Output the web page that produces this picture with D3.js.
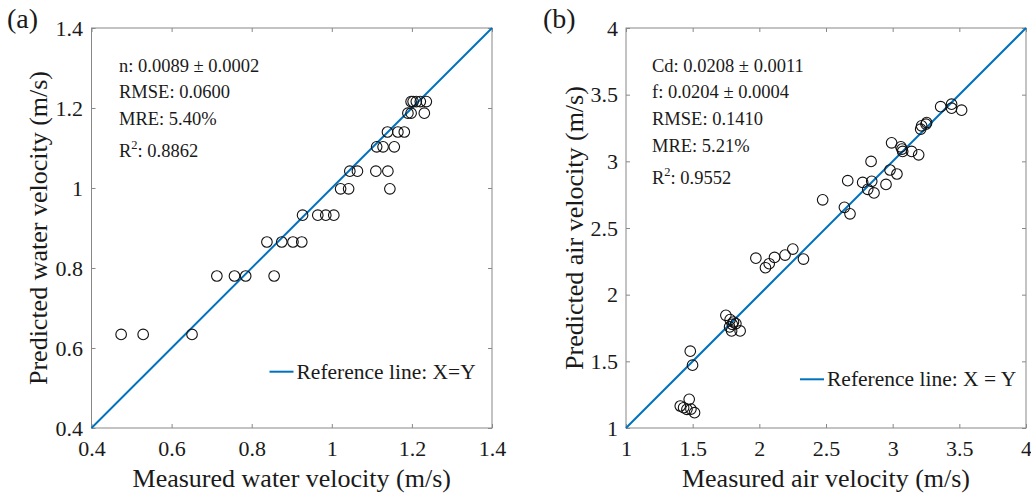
<!DOCTYPE html>
<html>
<head>
<meta charset="utf-8">
<script src="https://cdn.jsdelivr.net/npm/d3@7"></script>
<style>
  html, body { margin: 0; padding: 0; background: #fff; }
  svg text { font-family: "Liberation Serif", "Times New Roman", serif; fill: #1a1a1a; }
</style>
</head>
<body>
<div id="chart"></div>
<script>
// (a) water velocity: measured vs predicted (m/s)
const waterMeasured = [
  0.474, 0.529, 0.651,
  0.713, 0.757, 0.785, 0.856,
  0.838, 0.875, 0.903, 0.925,
  0.927, 0.965, 0.985, 1.005,
  1.022, 1.042, 1.145,
  1.045, 1.064, 1.110, 1.140,
  1.112, 1.128, 1.156,
  1.139, 1.165, 1.181,
  1.190, 1.198, 1.231,
  1.198, 1.203, 1.211, 1.221, 1.236
]
const waterPredicted = [
  0.634, 0.634, 0.634,
  0.780, 0.780, 0.780, 0.780,
  0.865, 0.865, 0.865, 0.865,
  0.932, 0.932, 0.932, 0.932,
  0.998, 0.998, 0.998,
  1.042, 1.042, 1.042, 1.042,
  1.103, 1.103, 1.103,
  1.140, 1.140, 1.140,
  1.187, 1.187, 1.187,
  1.216, 1.216, 1.216, 1.216, 1.216
]
// (b) air velocity: measured vs predicted (m/s)
const airMeasured = [
  1.407, 1.432, 1.457, 1.474, 1.487, 1.514,
  1.482, 1.499,
  1.749, 1.781, 1.806, 1.797, 1.777, 1.792, 1.824, 1.856,
  1.974, 2.046, 2.074, 2.114, 2.193, 2.251, 2.331,
  2.475, 2.638, 2.680, 2.663, 2.775, 2.813, 2.843, 2.860, 2.838, 2.950, 2.980, 3.032,
  2.992, 3.062, 3.070, 3.075, 3.142, 3.195,
  3.210, 3.217, 3.250, 3.255,
  3.360, 3.442, 3.442, 3.517
]
const airPredicted = [
  1.165, 1.152, 1.140, 1.215, 1.142, 1.115,
  1.576, 1.471,
  1.845, 1.813, 1.795, 1.778, 1.758, 1.728, 1.783, 1.728,
  2.274, 2.202, 2.232, 2.279, 2.297, 2.342, 2.267,
  2.711, 2.655, 2.606, 2.855, 2.842, 2.790, 2.850, 2.763, 2.999, 2.827, 2.935, 2.905,
  3.139, 3.109, 3.092, 3.074, 3.074, 3.049,
  3.241, 3.266, 3.279, 3.291,
  3.410, 3.429, 3.399, 3.384
]
const waterTicks = [0.4, 0.6, 0.8, 1.0, 1.2, 1.4]
const airTicks = [1, 1.5, 2, 2.5, 3, 3.5, 4]
const waterStats = ['n: 0.0089 \u00b1 0.0002', 'RMSE: 0.0600', 'MRE: 5.40%', ': 0.8862']
const airStats = ['Cd: 0.0208 \u00b1 0.0011', 'f: 0.0204 \u00b1 0.0004', 'RMSE: 0.1410', 'MRE: 5.21%', ': 0.9552']

const width = 1031
const height = 498
const svg = d3.select('#chart').append('svg')
  .attr('width', width)
  .attr('height', height)

const frameColor = '#888888'
const lineColor = '#0072bd'

function drawPanel (cfg) {
  const { left, right, top, bottom, domain, ticks, xs, ys, stats, statBase, statX,
    label, labelX, xTitle, yTitle, yTitleX, legendText, legendX, legendY, yTickPad } = cfg
  const x = d3.scaleLinear().domain(domain).range([left, right])
  const y = d3.scaleLinear().domain(domain).range([bottom, top])
  const g = svg.append('g')

  // 外框
  g.append('rect')
    .attr('x', left).attr('y', top)
    .attr('width', right - left).attr('height', bottom - top)
    .attr('fill', 'none').attr('stroke', frameColor).attr('stroke-width', 1)

  // 坐标轴（刻度朝内）
  const fmt = d => d3.format('~g')(d)
  const axB = g.append('g').attr('transform', `translate(0,${bottom})`)
    .call(d3.axisBottom(x).tickValues(ticks).tickFormat(fmt).tickSizeInner(-4).tickSizeOuter(0).tickPadding(12.5))
  const axL = g.append('g').attr('transform', `translate(${left},0)`)
    .call(d3.axisLeft(y).tickValues(ticks).tickFormat(fmt).tickSizeInner(-4).tickSizeOuter(0).tickPadding(yTickPad))
  const axT = g.append('g').attr('transform', `translate(0,${top})`)
    .call(d3.axisTop(x).tickValues(ticks).tickFormat('').tickSizeInner(-4).tickSizeOuter(0))
  const axR = g.append('g').attr('transform', `translate(${right},0)`)
    .call(d3.axisRight(y).tickValues(ticks).tickFormat('').tickSizeInner(-4).tickSizeOuter(0))
  ;[axB, axL, axT, axR].forEach(a => {
    a.select('.domain').remove()
    a.selectAll('line').attr('stroke', frameColor)
    a.selectAll('text')
      .attr('font-family', '"Liberation Serif", "Times New Roman", serif')
      .attr('font-size', 22)
      .attr('fill', '#1a1a1a')
  })

  // 参考线 X=Y
  g.append('line')
    .attr('x1', x(domain[0])).attr('y1', y(domain[0]))
    .attr('x2', x(domain[1])).attr('y2', y(domain[1]))
    .attr('stroke', lineColor).attr('stroke-width', 2)

  // 散点
  g.selectAll('circle.pt').data(xs.map((v, i) => [v, ys[i]]))
    .enter().append('circle')
    .attr('class', 'pt')
    .attr('cx', d => x(d[0]))
    .attr('cy', d => y(d[1]))
    .attr('r', 5.3)
    .attr('fill', 'none')
    .attr('stroke', '#111')
    .attr('stroke-width', 1.1)

  // 统计文本
  stats.forEach((s, i) => {
    const t = g.append('text')
      .attr('x', statX)
      .attr('y', statBase[i])
      .attr('font-size', 18.5)
    if (i === stats.length - 1) {
      t.append('tspan').text('R')
      t.append('tspan').attr('font-size', 12.5).attr('dy', -8).text('2')
      t.append('tspan').attr('dy', 8).text(s)
    } else {
      t.text(s)
    }
  })

  // 图例
  g.append('line')
    .attr('x1', legendX).attr('x2', legendX + 24)
    .attr('y1', legendY).attr('y2', legendY)
    .attr('stroke', lineColor).attr('stroke-width', 2)
  g.append('text')
    .attr('x', legendX + 27)
    .attr('y', legendY + 7)
    .attr('font-size', 21.5)
    .text(legendText)

  // 轴标题
  g.append('text')
    .attr('x', (left + right) / 2)
    .attr('y', 486.5)
    .attr('text-anchor', 'middle')
    .attr('font-size', 26)
    .text(xTitle)
  g.append('text')
    .attr('transform', `translate(${yTitleX},${(top + bottom) / 2}) rotate(-90)`)
    .attr('text-anchor', 'middle')
    .attr('font-size', 26)
    .text(yTitle)

  // 子图标号
  g.append('text')
    .attr('x', labelX)
    .attr('y', 28)
    .attr('font-size', 28)
    .text(label)
}

drawPanel({
  left: 91.5, right: 492, top: 28, bottom: 428,
  domain: [0.4, 1.4], ticks: waterTicks,
  xs: waterMeasured, ys: waterPredicted,
  stats: waterStats, statBase: [71.7, 98.3, 125, 157.3], statX: 119,
  label: '(a)', labelX: 7,
  xTitle: 'Measured water velocity (m/s)',
  yTitle: 'Predicted water velocity (m/s)', yTitleX: 46.5,
  legendText: 'Reference line: X=Y', legendX: 269.5, legendY: 371.7,
  yTickPad: 8.5
})

drawPanel({
  left: 626, right: 1026, top: 28, bottom: 428,
  domain: [1, 4], ticks: airTicks,
  xs: airMeasured, ys: airPredicted,
  stats: airStats, statBase: [71.7, 98.3, 125, 152, 184], statX: 652,
  label: '(b)', labelX: 543,
  xTitle: 'Measured air velocity (m/s)',
  yTitle: 'Predicted air velocity (m/s)', yTitleX: 582.5,
  legendText: 'Reference line: X = Y', legendX: 800, legendY: 379.3,
  yTickPad: 8
})
</script>
</body>
</html>
